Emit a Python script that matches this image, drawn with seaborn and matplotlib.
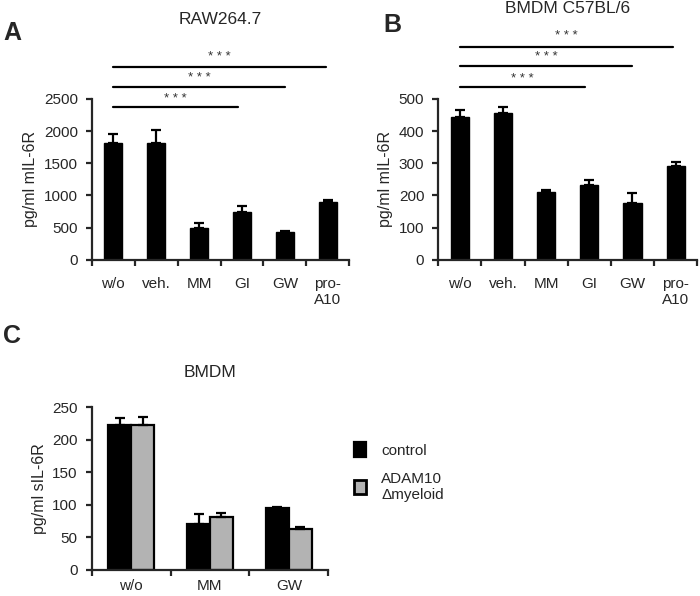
import numpy as np
import pandas as pd
import seaborn as sns
import matplotlib.pyplot as plt
from matplotlib.patches import Patch

sns.set_style("ticks")
plt.rcParams['font.family'] = ['Liberation Sans', 'DejaVu Sans']

# Panel A: RAW264.7
cats_ab = ["w/o", "veh.", "MM", "GI", "GW", "pro-\nA10"]
raw_mean = [1810, 1820, 500, 750, 430, 900]
raw_err = [150, 200, 70, 80, 20, 30]

# Panel B: BMDM C57BL/6
bmdm_mean = [443, 457, 212, 232, 178, 291]
bmdm_err = [24, 18, 5, 16, 30, 12]

# Panel C: BMDM, control vs ADAM10 deficient
cats_c = ["w/o", "MM", "GW"]
groups_c = ["control", "ADAM10\nΔmyeloid"]
ctrl_mean = [222, 70, 95]
ctrl_err = [11, 15, 2]
ko_mean = [222, 81, 63]
ko_err = [13, 7, 2]

# significance brackets: (end category, line y, star y)
sig_a = [(2.9, 2370, 2495), (4.0, 2690, 2820), (4.95, 3000, 3145)]
sig_b = [(2.9, 536, 562), (4.0, 602, 630), (4.95, 662, 696)]

fig = plt.figure(figsize=(7, 5.96), dpi=100)
ax_a = fig.add_axes([0.131, 0.564, 0.368, 0.270])
ax_b = fig.add_axes([0.626, 0.564, 0.370, 0.270])
ax_c = fig.add_axes([0.131, 0.044, 0.338, 0.273])


def style_axis(ax, n):
    for s in ["top", "right"]:
        ax.spines[s].set_visible(False)
    for s in ["left", "bottom"]:
        ax.spines[s].set_linewidth(1.6)
    ax.set_xlim(-0.5, n - 0.5)
    ax.set_xticks(np.arange(n + 1) - 0.5)
    ax.set_xticklabels([])
    ax.tick_params(axis="x", which="major", length=4, width=1.6, direction="out")
    ax.tick_params(axis="y", length=4, width=1.6, labelsize=11, pad=6)
    ax.set_xlabel("")


def single_panel(ax, mean, err, ymax, step, ylabel, title, title_y, sig):
    sns.barplot(x=cats_ab, y=mean, color="black", width=0.42, ax=ax,
                edgecolor="black", saturation=1)
    x = np.arange(len(cats_ab))
    ax.errorbar(x, mean, yerr=[np.zeros(len(err)), err], fmt="none",
                ecolor="black", elinewidth=1.6, capsize=3.5, capthick=1.6)
    style_axis(ax, len(cats_ab))
    ax.set_xticks(x, minor=True)
    ax.set_xticklabels(cats_ab, minor=True, fontsize=11)
    ax.tick_params(axis="x", which="minor", length=0, pad=12)
    ax.set_ylim(0, ymax)
    ax.set_yticks(np.arange(0, ymax + 1, step))
    ax.set_ylabel(ylabel, fontsize=11.5)
    for xe, ly, sy in sig:
        ax.plot([0, xe], [ly, ly], color="black", lw=1.6, clip_on=False)
        ax.text(xe / 2, sy, "* * *", ha="center", va="center", fontsize=9.5,
                color="#333333")
    ax.text(2.5, title_y, title, fontsize=12.5, ha="center", va="center")


single_panel(ax_a, raw_mean, raw_err, 2500, 500, "pg/ml mIL-6R", "RAW264.7", 3727, sig_a)
single_panel(ax_b, bmdm_mean, bmdm_err, 500, 100, "pg/ml mIL-6R", "BMDM C57BL/6", 780, sig_b)

# Panel C
df_c = pd.DataFrame({
    "treat": cats_c * 2,
    "group": [groups_c[0]] * 3 + [groups_c[1]] * 3,
    "val": ctrl_mean + ko_mean,
})
sns.barplot(data=df_c, x="treat", y="val", hue="group", palette=["black", "#b3b3b3"],
            width=0.58, edgecolor="black", linewidth=1.6, saturation=1, ax=ax_c,
            legend=False)
for cont, errs in zip(ax_c.containers, [ctrl_err, ko_err]):
    xs = [p.get_x() + p.get_width() / 2 for p in cont.patches]
    hs = [p.get_height() for p in cont.patches]
    ax_c.errorbar(xs, hs, yerr=[np.zeros(3), errs], fmt="none", ecolor="black",
                  elinewidth=1.6, capsize=3.5, capthick=1.6)
style_axis(ax_c, 3)
ax_c.set_xticks(np.arange(3), minor=True)
ax_c.set_xticklabels(cats_c, minor=True, fontsize=11)
ax_c.tick_params(axis="x", which="minor", length=0, pad=7)
ax_c.set_ylim(0, 250)
ax_c.set_yticks(np.arange(0, 251, 50))
ax_c.set_ylabel("pg/ml sIL-6R", fontsize=11.5)
ax_c.set_title("BMDM", fontsize=12.5, pad=22)

handles = [Patch(facecolor="black", edgecolor="black", linewidth=1.6),
           Patch(facecolor="#b3b3b3", edgecolor="black", linewidth=2)]
ax_c.legend(handles, groups_c, loc="center left", bbox_to_anchor=(1.05, 0.6),
            frameon=False, fontsize=11, handlelength=0.8, handleheight=1.1,
            labelspacing=0.9, handletextpad=1.0)

# panel letters
fig.text(0.005, 0.945, "A", fontsize=18, fontweight="bold", va="center")
fig.text(0.548, 0.958, "B", fontsize=18, fontweight="bold", va="center")
fig.text(0.005, 0.436, "C", fontsize=18, fontweight="bold", va="center")

fig.savefig("out.png", dpi=100)
